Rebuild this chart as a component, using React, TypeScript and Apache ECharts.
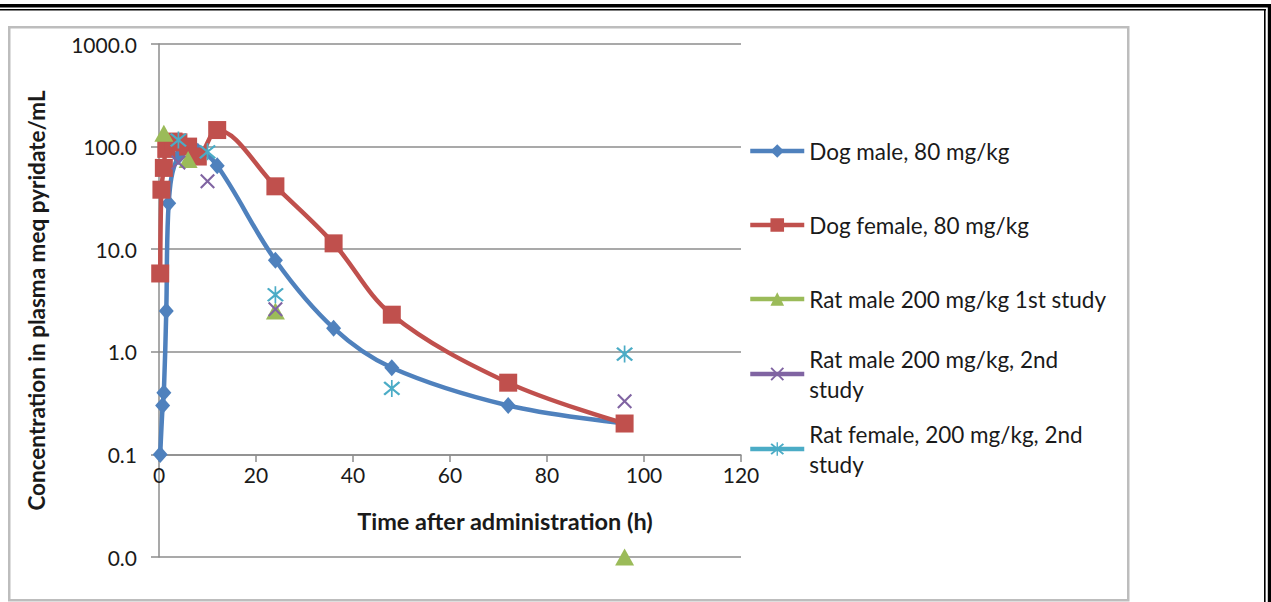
import { useEffect, useRef } from "react";
import * as echarts from "echarts";

// ---- data ----
const seriesNames = [
  "Dog male, 80 mg/kg",
  "Dog female, 80 mg/kg",
  "Rat male 200 mg/kg 1st study",
  "Rat male 200 mg/kg, 2nd study",
  "Rat female, 200 mg/kg, 2nd study",
];
const legendLabels = [
  "Dog male, 80 mg/kg",
  "Dog female, 80 mg/kg",
  "Rat male 200 mg/kg 1st study",
  "Rat male 200 mg/kg, 2nd\nstudy",
  "Rat female, 200 mg/kg, 2nd\nstudy",
];

const dogMaleTime = [0.25, 0.75, 1, 1.5, 2, 4, 8, 12, 24, 36, 48, 72, 96];
const dogMaleConc = [0.1, 0.3, 0.4, 2.5, 28, 80, 90, 65, 7.8, 1.7, 0.7, 0.3, 0.2];

const dogFemaleTime = [0.25, 0.5, 1, 1.5, 3, 4, 6, 8, 12, 24, 36, 48, 72, 96];
const dogFemaleConc = [5.8, 38, 62, 95, 112, 110, 100, 80, 145, 41, 11.4, 2.3, 0.5, 0.2];

const ratMale1Time = [1, 6, 24, 96];
const ratMale1Conc = [135, 75, 2.5, 0.01];

const ratMale2Time = [4, 10, 24, 96];
const ratMale2Conc = [70, 46, 2.6, 0.33];

const ratFemale2Time = [4, 10, 24, 48, 96];
const ratFemale2Conc = [116, 89, 3.6, 0.44, 0.95];

const xTicks = [0, 20, 40, 60, 80, 100, 120];

const colors = ["#4F81BD", "#C0504D", "#9BBB59", "#8064A2", "#4BACC6"];

const X_PATH =
  "path://M2,0 L10,8 L18,0 L20,2 L12,10 L20,18 L18,20 L10,12 L2,20 L0,18 L8,10 L0,2 Z";
const STAR_PATH =
  "path://M2,0 L10,8 L18,0 L20,2 L12,10 L20,18 L18,20 L10,12 L2,20 L0,18 L8,10 L0,2 Z M9,-2 L11,-2 L11,22 L9,22 Z";

const zip = (t: number[], v: number[]) => t.map((x, i) => [x, v[i]]);

const FONT = "Lato";

export default function App() {
  const ref = useRef<HTMLDivElement>(null);
  useEffect(() => {
    if (!ref.current) return;
    const chart = echarts.init(ref.current, undefined, { renderer: "svg" });

    const datasets = [
      zip(dogMaleTime, dogMaleConc),
      zip(dogFemaleTime, dogFemaleConc),
      zip(ratMale1Time, ratMale1Conc),
      zip(ratMale2Time, ratMale2Conc),
      zip(ratFemale2Time, ratFemale2Conc),
    ];
    const symbols: any[] = ["diamond", "rect", "triangle", X_PATH, STAR_PATH];
    const sizes: any[] = [[15, 17], 18, [19, 17], 15, 17];
    const hasLine = [true, true, false, false, false];

    const series = datasets.map((d, i) => ({
      name: seriesNames[i],
      type: "line",
      xAxisIndex: 0,
      yAxisIndex: 0,
      data: d,
      smooth: 0.35,
      clip: false,
      symbol: symbols[i],
      symbolSize: sizes[i],
      showAllSymbol: true,
      itemStyle: { color: colors[i], borderWidth: 0 },
      lineStyle: hasLine[i]
        ? { color: colors[i], width: 4.5 }
        : { color: colors[i], width: 0, opacity: 0 },
      emphasis: { disabled: true },
      z: 2 + i,
    }));

    const legendCenters = [151, 225, 299, 374, 449];
    const legends = seriesNames.map((n, i) => {
      const two = legendLabels[i].includes("\n");
      return {
        data: [n],
        left: 748,
        top: legendCenters[i] - (two ? 45 : 15),
        orient: "vertical",
        padding: 0,
        itemWidth: 54,
        itemHeight: 17,
        selectedMode: false,
        formatter: () => legendLabels[i],
        lineStyle: { width: 4.5, opacity: 1 },
        textStyle: {
          fontFamily: FONT,
          fontSize: 22.5,
          lineHeight: 30,
          color: "#1a1a1a",
          padding: two ? [30, 0, 0, 0] : 0,
        },
      };
    });

    const option: any = {
      animation: false,
      backgroundColor: "#ffffff",
      grid: [
        { left: 159, top: 44, width: 582, height: 513, containLabel: false },
        { left: 159, top: 44, width: 582, height: 411, containLabel: false },
      ],
      xAxis: [
        { gridIndex: 0, type: "value", min: 0, max: 120, show: false },
        {
          gridIndex: 1,
          type: "value",
          min: 0,
          max: 120,
          interval: 20,
          axisLine: { show: true, lineStyle: { color: "#8c8c8c", width: 1.5 } },
          axisTick: { show: true, length: 7, lineStyle: { color: "#8c8c8c", width: 1.5 } },
          splitLine: { show: false },
          axisLabel: {
            margin: 9,
            fontFamily: FONT,
            fontSize: 21,
            color: "#1a1a1a",
            customValues: xTicks,
            formatter: (v: number) => String(v),
          },
        },
      ],
      yAxis: [
        {
          gridIndex: 0,
          type: "log",
          logBase: 10,
          min: 0.01,
          max: 1000,
          name: "Concentration in plasma meq pyridate/mL",
          nameLocation: "middle",
          nameRotate: 90,
          nameGap: 111,
          nameTextStyle: {
            fontFamily: FONT,
            fontSize: 22.5,
            fontWeight: "bold",
            color: "#1a1a1a",
          },
          axisLine: { show: true, lineStyle: { color: "#8c8c8c", width: 1.5 } },
          axisTick: { show: true, length: 8, lineStyle: { color: "#8c8c8c", width: 1.5 } },
          splitLine: { show: true, lineStyle: { color: "#8c8c8c", width: 1.5 } },
          axisLabel: {
            margin: 22,
            fontFamily: FONT,
            fontSize: 21,
            color: "#1a1a1a",
            formatter: (v: number) => v.toFixed(1),
          },
        },
        { gridIndex: 1, type: "value", min: 0, max: 1, show: false },
      ],
      legend: legends,
      series,
      graphic: [
        // outer page borders
        { type: "rect", shape: { x: 0, y: 4, width: 1271, height: 3.5 }, style: { fill: "#000" }, silent: true },
        { type: "rect", shape: { x: 0, y: 9, width: 1266, height: 1.6 }, style: { fill: "#000" }, silent: true },
        { type: "rect", shape: { x: 1267.8, y: 4, width: 3.2, height: 598 }, style: { fill: "#000" }, silent: true },
        { type: "rect", shape: { x: 1264, y: 9, width: 1.6, height: 593 }, style: { fill: "#000" }, silent: true },
        // chart area frame
        {
          type: "rect",
          shape: { x: 9.25, y: 27.25, width: 1119, height: 573 },
          style: { fill: "none", stroke: "#bdbdbd", lineWidth: 2.5 },
          silent: true,
        },
        {
          type: "text",
          x: 505,
          y: 521,
          style: {
            text: "Time after administration (h)",
            fontFamily: FONT,
            fontSize: 23.5,
            fontWeight: "bold",
            fill: "#1a1a1a",
            align: "center",
            verticalAlign: "middle",
          },
          silent: true,
        },
      ],
    };
    chart.setOption(option);
    return () => chart.dispose();
  }, []);
  return (
    <div
      ref={ref}
      style={{ position: "absolute", left: 0, top: 0, width: 1271, height: 602, background: "#fff" }}
    />
  );
}
